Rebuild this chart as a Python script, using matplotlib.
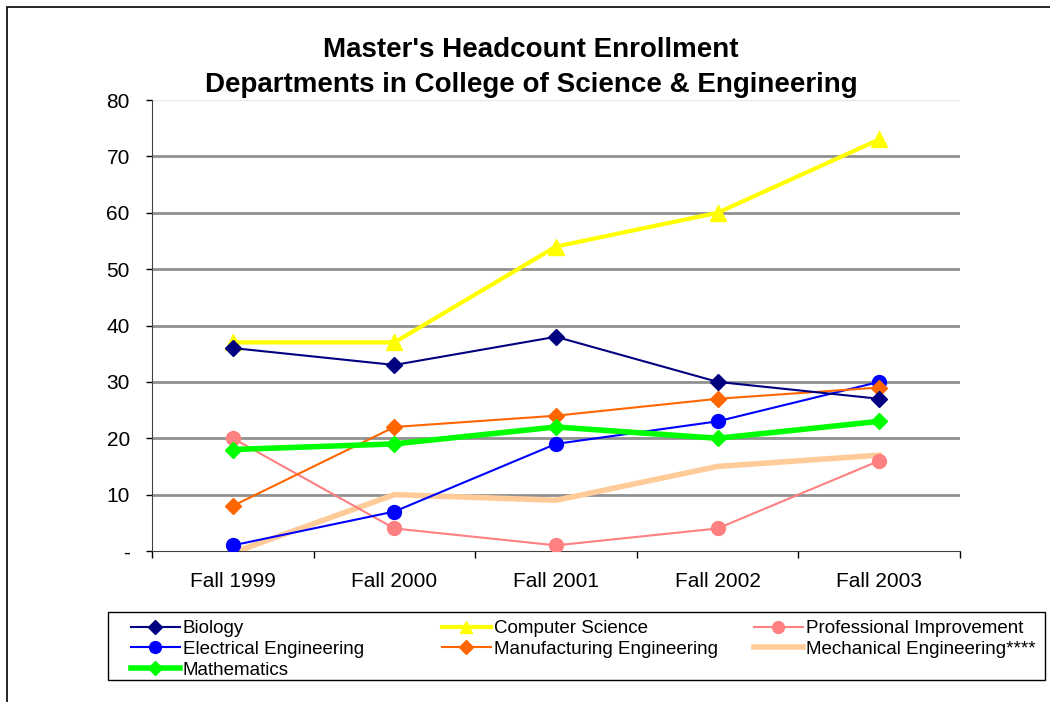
import numpy as np
import matplotlib.pyplot as plt
from matplotlib.patches import Rectangle

plt.rcParams['font.family'] = ['Liberation Sans', 'DejaVu Sans']

# data
years = ['Fall 1999', 'Fall 2000', 'Fall 2001', 'Fall 2002', 'Fall 2003']
biology = [36, 33, 38, 30, 27]
comp_sci = [37, 37, 54, 60, 73]
prof_impr = [20, 4, 1, 4, 16]
elec_eng = [1, 7, 19, 23, 30]
manuf_eng = [8, 22, 24, 27, 29]
mech_eng = [0, 10, 9, 15, 17]
math = [18, 19, 22, 20, 23]

fig = plt.figure(figsize=(10.5, 7.02), dpi=100)
W, H = 1050, 702
ax = fig.add_axes([152 / W, 1 - 551 / H, 808 / W, 451 / H])

# outer chart border
fig.add_artist(Rectangle((7 / W, -0.05), 1.2, 1 - 7 / H + 0.05,
                         transform=fig.transFigure, fill=False,
                         edgecolor='black', linewidth=1.2))

x = np.arange(len(years))

h_bio, = ax.plot(x, biology, color='#000080', marker='D', markersize=8, linewidth=1.5,
                 label='Biology', zorder=5)
h_cs, = ax.plot(x, comp_sci, color='#FFFF00', marker='^', markersize=11, linewidth=3,
                label='Computer Science', zorder=4)
h_pi, = ax.plot(x, prof_impr, color='#FF8080', marker='o', markersize=10, linewidth=1.5,
                label='Professional Improvement', zorder=4)
h_ee, = ax.plot(x, elec_eng, color='#0000FF', marker='o', markersize=10, linewidth=1.5,
                label='Electrical Engineering', zorder=4)
h_mf, = ax.plot(x, manuf_eng, color='#FF6600', marker='D', markersize=8, linewidth=1.5,
                label='Manufacturing Engineering', zorder=4)
h_me, = ax.plot(np.r_[x[0] + 0.03, x[1:]], mech_eng, color='#FFCC99', linewidth=4,
                label='Mechanical Engineering****', zorder=3)
h_ma, = ax.plot(x, math, color='#00FF00', marker='D', markersize=8, linewidth=4,
                label='Mathematics', zorder=4)

ax.set_xlim(-0.5, len(years) - 0.5)
ax.set_ylim(0, 80)
ax.set_yticks(range(0, 81, 10))
ax.set_yticklabels(['-'] + [str(v) for v in range(10, 81, 10)])
ax.set_xticks(x)
ax.set_xticklabels(years)
ax.set_xticks(np.arange(-0.5, len(years)), minor=True)
ax.tick_params(axis='x', which='major', length=0, pad=15, labelsize=15)
ax.tick_params(axis='x', which='minor', length=5, direction='out', width=1)
ax.tick_params(axis='y', length=4, direction='out', width=1, pad=12, labelsize=15)

for v in range(10, 80, 10):
    ax.axhline(v, color='#909090', linewidth=2, zorder=1)
ax.axhline(80, color='#e8e8e8', linewidth=1, zorder=1)

for side in ['top', 'right']:
    ax.spines[side].set_visible(False)
ax.spines['left'].set_color('#404040')
ax.spines['bottom'].set_color('#404040')

fig.text(531 / W, 1 - 50 / H, "Master's Headcount Enrollment",
         ha='center', va='center', fontsize=20, fontweight='bold')
fig.text(531 / W, 1 - 85 / H, "Departments in College of Science & Engineering",
         ha='center', va='center', fontsize=20, fontweight='bold')

# legend: frame plus three fixed-width columns
fig.add_artist(Rectangle((108 / W, 1 - 680 / H), (1045 - 108) / W, 68 / H,
                         transform=fig.transFigure, fill=False,
                         edgecolor='black', linewidth=1))
columns = [[h_bio, h_ee, h_ma], [h_cs, h_mf], [h_pi, h_me]]
for col_x, hs in zip([131, 442, 754], columns):
    fig.legend(hs, [h.get_label() for h in hs], loc='upper left',
               bbox_to_anchor=(col_x / W, 1 - 620 / H), frameon=False,
               fontsize=13.5, handlelength=2.6, handletextpad=0.15,
               borderpad=0, borderaxespad=0, labelspacing=0.2,
               markerscale=0.85)

fig.savefig('out.png', dpi=100)
